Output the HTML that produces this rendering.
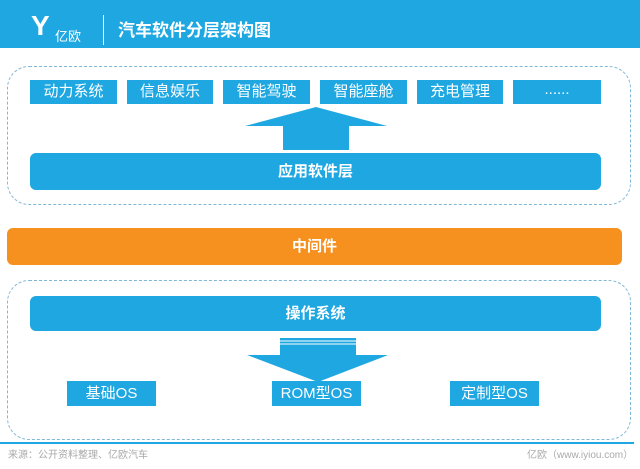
<!DOCTYPE html>
<html><head><meta charset="utf-8"><style>
body{margin:0;width:640px;height:469px;background:#fff;position:relative;overflow:hidden;font-family:"Liberation Sans","Noto Sans CJK SC",sans-serif}
.a{position:absolute}
.b{position:absolute;background:#1ea7e1;color:#fff;text-align:center;font-size:15px}
.d{position:absolute;border:1.5px dashed #7fb8d6;border-radius:22px}
</style></head><body>
<div class="a" style="left:0;top:0;width:640px;height:48px;background:#1ea7e1"></div>
<div class="a" style="left:31px;top:12px;color:#fff;font-size:28px;line-height:28px;font-weight:bold">Y</div>
<div class="a" style="left:55px;top:26px;color:#fff;font-size:13px">亿欧</div>
<div class="a" style="left:103px;top:15px;width:1px;height:30px;background:#fff"></div>
<div class="a" style="left:118px;top:16px;color:#fff;font-size:17px;font-weight:bold">汽车软件分层架构图</div>
<div class="d" style="left:7px;top:66px;width:622px;height:137px"></div>
<div class="b" style="left:30px;top:80px;width:87px;height:24px;line-height:24px">动力系统</div>
<div class="b" style="left:127px;top:80px;width:86px;height:24px;line-height:24px">信息娱乐</div>
<div class="b" style="left:223px;top:80px;width:87px;height:24px;line-height:24px">智能驾驶</div>
<div class="b" style="left:320px;top:80px;width:87px;height:24px;line-height:24px">智能座舱</div>
<div class="b" style="left:417px;top:80px;width:86px;height:24px;line-height:24px">充电管理</div>
<div class="b" style="left:513px;top:80px;width:88px;height:24px;line-height:20px">......</div>
<svg class="a" style="left:0;top:0" width="640" height="469">
<polygon points="245,126 316,107 387,126 349,126 349,150 283,150 283,126" fill="#1ea7e1"/>
<polygon points="280,338 356,338 356,355 388,355 318,382 247,355 280,355" fill="#1ea7e1"/>
<line x1="280" y1="341" x2="356" y2="341" stroke="#fff" stroke-width="1"/>
<line x1="280" y1="344" x2="356" y2="344" stroke="#fff" stroke-width="1"/>
</svg>
<div class="b" style="left:30px;top:153px;width:571px;height:37px;line-height:37px;border-radius:6px;font-weight:bold">应用软件层</div>
<div class="b" style="left:7px;top:228px;width:615px;height:37px;line-height:37px;border-radius:6px;font-weight:bold;background:#f6901e">中间件</div>
<div class="d" style="left:7px;top:280px;width:622px;height:158px"></div>
<div class="b" style="left:30px;top:296px;width:571px;height:35px;line-height:35px;border-radius:6px;font-weight:bold">操作系统</div>
<div class="b" style="left:67px;top:381px;width:89px;height:25px;line-height:25px">基础OS</div>
<div class="b" style="left:272px;top:381px;width:89px;height:25px;line-height:25px">ROM型OS</div>
<div class="b" style="left:450px;top:381px;width:89px;height:25px;line-height:25px">定制型OS</div>
<div class="a" style="left:0;top:442px;width:634px;height:1.5px;background:#1ea7e1"></div>
<div class="a" style="left:8px;top:446px;font-size:10px;color:#aaa">来源：公开资料整理、亿欧汽车</div>
<div class="a" style="left:527px;top:446px;font-size:10px;color:#aaa">亿欧（www.iyiou.com）</div>
</body></html>
